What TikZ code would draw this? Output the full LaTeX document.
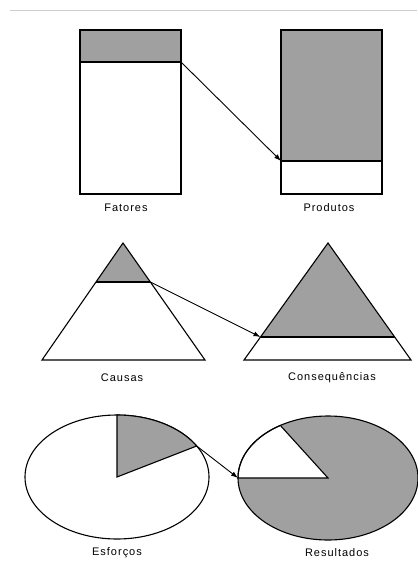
\documentclass[tikz,border=0pt]{standalone}
\usepackage{fontspec}
\setmainfont{Liberation Sans}[LetterSpace=9]
\usetikzlibrary{arrows.meta,positioning}
\definecolor{greyfill}{RGB}{160,160,160}
\definecolor{rulegrey}{RGB}{205,205,205}
\tikzset{
  part/.style={draw=black, line width=1.1pt},
  link/.style={line width=0.9pt, -{Latex[length=7pt,width=5pt]}},
  caption/.style={font=\fontsize{11}{13}\selectfont, inner sep=1pt}
}
\begin{document}
\begin{tikzpicture}[x=1pt, y=1pt]
  \useasboundingbox (0,0) rectangle (417,-572);
  \draw[rulegrey, line width=1pt] (10,-11) -- (417,-11);

  % bars
  \fill[greyfill] (80,-30) rectangle (181,-62);
  \draw[part] (80,-30) rectangle (181,-194);
  \draw[part] (80,-62) -- (181,-62);
  \coordinate (fatTop) at (181,-62);
  \node[caption] (fat) at (126,-208) {Fatores};

  \fill[greyfill] (281,-30) rectangle (382,-161);
  \draw[part] (281,-30) rectangle (382,-194);
  \draw[part] (281,-161) -- (382,-161);
  \coordinate (prodCut) at (281,-161);
  \node[caption] (prod) at (329,-208) {Produtos};

  \draw[link] (fatTop) -- (prodCut);

  % triangles
  \fill[greyfill] (123,-243) -- (96,-282) -- (150.3,-282) -- cycle;
  \draw[part] (123,-243) -- (42,-360) -- (205,-360) -- cycle;
  \draw[part] (96,-282) -- (150.3,-282);
  \coordinate (causTop) at (150.3,-282);
  \node[caption] (caus) at (122,-378) {Causas};

  \fill[greyfill] (328,-243) -- (260.5,-337) -- (394.7,-337) -- cycle;
  \draw[part] (328,-243) -- (244,-360) -- (411,-360) -- cycle;
  \draw[part] (260.5,-337) -- (394.7,-337);
  \coordinate (consCut) at (260.5,-337);
  \node[caption] (cons) at (332,-378) {Consequências};

  \draw[link] (causTop) -- (consCut);

  % ellipses
  \coordinate (esfC) at (117,-477);
  \draw[part] (esfC) ellipse [x radius=92, y radius=62];
  \filldraw[part, fill=greyfill] (esfC) -- ++(0,62)
    arc [start angle=90, end angle=30, x radius=92, y radius=62] coordinate (esfEdge) -- cycle;
  \node[caption] (esf) at (117,-553) {Esforços};

  \coordinate (resC) at (328,-478);
  \fill[greyfill] (resC) ellipse [x radius=90, y radius=62];
  \filldraw[part, fill=white] (resC) -- ++(-90,0)
    arc [start angle=180, end angle=122, x radius=90, y radius=62] -- cycle;
  \draw[part] (resC) ellipse [x radius=90, y radius=62];
  \coordinate (resEdge) at (238,-478);
  \node[caption] (res) at (337,-553) {Resultados};

  \draw[link] (esfEdge) -- (resEdge);
\end{tikzpicture}
\end{document}
